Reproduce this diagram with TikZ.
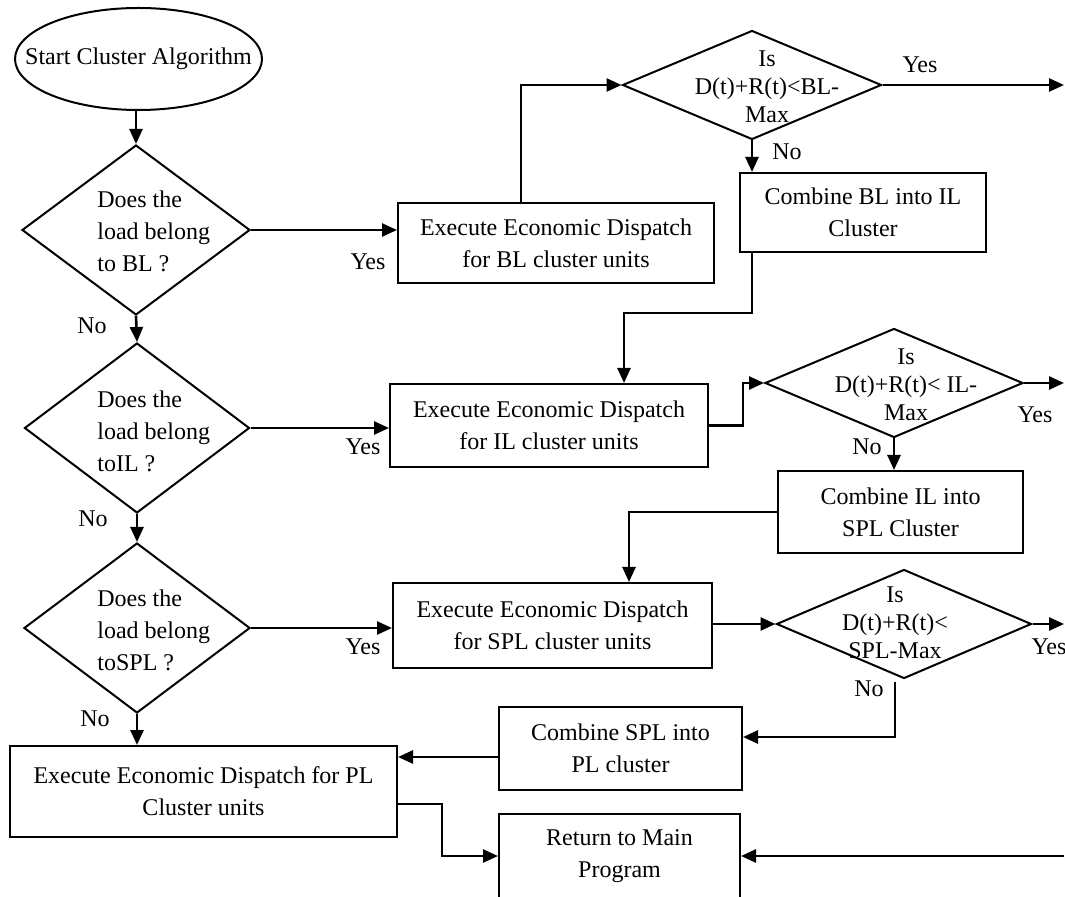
\documentclass[tikz,border=0pt]{standalone}
\usepackage{fontspec}
\setmainfont{Liberation Serif}
\usetikzlibrary{shapes.geometric,arrows.meta}

\tikzset{
  box/.style={draw, line width=1pt, inner sep=0pt, align=center, font=\fontsize{12}{16}\selectfont},
  terminal/.style={draw, ellipse, line width=1pt, inner sep=0pt},
  decision/.style={draw, diamond, line width=1pt, inner sep=0pt},
  dtext/.style={inner sep=0pt, align=left, anchor=west, font=\fontsize{12}{16}\selectfont},
  ctext/.style={inner sep=0pt, align=center, font=\fontsize{12}{14}\selectfont},
  lbl/.style={inner sep=0pt, font=\fontsize{12}{14}\selectfont},
  arr/.style={line width=1.3pt, -{Triangle[length=7.5pt,width=6.5pt]}}
}

\begin{document}
\begin{tikzpicture}[x=0.5pt, y=-0.5pt]
    \clip (0,0) rectangle (1065,897);
    % Start
    \node[terminal, minimum width=123.5pt, minimum height=51pt] (start) at (138.5,59) {};
    \node[ctext] (start-t) at (start) {Start Cluster Algorithm};

    % Load class questions
    \node[decision, minimum width=114pt, minimum height=85pt] (qbl) at (136,230) {};
    \node[dtext] (qbl-t) at (97,231) {Does the\\load belong\\to BL ?};
    \node[decision, minimum width=112.5pt, minimum height=85pt] (qil) at (137,428) {};
    \node[dtext] (qil-t) at (97,431) {Does the\\load belong\\toIL ?};
    \node[decision, minimum width=113pt, minimum height=85pt] (qspl) at (137,628) {};
    \node[dtext] (qspl-t) at (97,630) {Does the\\load belong\\toSPL ?};

    % Dispatch boxes
    \node[box, minimum width=158pt, minimum height=40pt] (ebl) at (556,243) {Execute Economic Dispatch\\for BL cluster units};
    \node[box, minimum width=159pt, minimum height=41.5pt] (eil) at (549,425.5) {Execute Economic Dispatch\\for IL cluster units};
    \node[box, minimum width=159.5pt, minimum height=42.5pt] (espl) at (552.5,625.5) {Execute Economic Dispatch\\for SPL cluster units};
    \node[box, minimum width=193.5pt, minimum height=45.5pt] (epl) at (203.5,791.5) {Execute Economic Dispatch for PL\\Cluster units};

    % Limit checks
    \node[decision, minimum width=129.5pt, minimum height=54.5pt] (cbl) at (752,85) {};
    \node[ctext] (cbl-t) at (767,87) {Is\\D(t)+R(t)<BL-\\Max};
    \node[decision, minimum width=129pt, minimum height=54.5pt] (cil) at (894,383) {};
    \node[ctext] (cil-t) at (906,385) {Is\\D(t)+R(t)< IL-\\Max};
    \node[decision, minimum width=127.5pt, minimum height=54.5pt] (cspl) at (904,624) {};
    \node[ctext] (cspl-t) at (895,623) {Is\\D(t)+R(t)<\\SPL-Max};

    % Combine boxes
    \node[box, minimum width=123pt, minimum height=39.5pt] (cmbbl) at (863,212.5) {Combine BL into IL\\Cluster};
    \node[box, minimum width=122.5pt, minimum height=41pt] (cmbil) at (900.5,512) {Combine IL into\\SPL Cluster};
    \node[box, minimum width=121.5pt, minimum height=41.5pt] (cmbspl) at (620.5,748.5) {Combine SPL into\\PL cluster};
    \node[box, minimum width=120.5pt, minimum height=42pt] (ret) at (619.5,856) {Return to Main\\Program};

    \coordinate (outbl) at (1064,85);
    \coordinate (outil) at (1064,383);
    \coordinate (outspl) at (1064,624);
    \coordinate (inret) at (1064,856);
    \coordinate (bend1) at (624,313);
    \coordinate (bend2) at (629,512);

    % Connectors
    \draw[arr] (qbl.north |- start.south) -- (qbl.north);
    \draw[arr] (qbl.east) -- (qbl.east -| ebl.west);
    \draw[arr] ([xshift=-17.5pt]ebl.north) |- (cbl.west);
    \draw[arr] (cbl.east) -- (outbl);
    \draw[arr] (cbl.south) -- (cbl.south |- cmbbl.north);
    \draw[arr] (cbl.south |- cmbbl.south) |- (bend1) -- (bend1 |- eil.north);
    \draw[arr] (qbl.south) -- (qil.north);
    \draw[arr] (qil.east) -- (qil.east -| eil.west);
    \draw[arr] (eil.east) -- ++(17pt,0) |- (cil.west);
    \draw[arr] (cil.east) -- (outil);
    \draw[arr] (cil.south) -- (cil.south |- cmbil.north);
    \draw[arr] (cmbil.west) -- (bend2) -- (bend2 |- espl.north);
    \draw[arr] (qil.south) -- (qspl.north);
    \draw[arr] (qspl.east) -- (qspl.east -| espl.west);
    \draw[arr] (espl.east |- cspl.west) -- (cspl.west);
    \draw[arr] (cspl.east) -- (outspl);
    \draw[arr] ([xshift=-4.5pt,yshift=-1pt]cspl.south) |- ([yshift=5.75pt]cmbspl.east);
    \draw[arr] ([yshift=-4.25pt]cmbspl.west) -- ([yshift=-4.25pt]cmbspl.west -| epl.east);
    \draw[arr] (qspl.south) -- (qspl.south |- epl.north);
    \draw[arr] ([yshift=-6.25pt]epl.east) -- ++(22pt,0) |- (ret.west);
    \draw[arr] (inret) -- (ret.east);

    % Yes / No labels
    \node[lbl] (ybl) at (368,262) {Yes};
    \node[lbl] (nbl) at (92,326) {No};
    \node[lbl] (yil) at (363,447) {Yes};
    \node[lbl] (nil) at (93,519) {No};
    \node[lbl] (yspl) at (363,647) {Yes};
    \node[lbl] (npl) at (95,719) {No};
    \node[lbl] (ycbl) at (920,65) {Yes};
    \node[lbl] (ncbl) at (787,152) {No};
    \node[lbl] (ycil) at (1035,415) {Yes};
    \node[lbl] (ncil) at (867,447) {No};
    \node[lbl] (ycspl) at (1049,647) {Yes};
    \node[lbl] (ncspl) at (869,689) {No};
\end{tikzpicture}
\end{document}
